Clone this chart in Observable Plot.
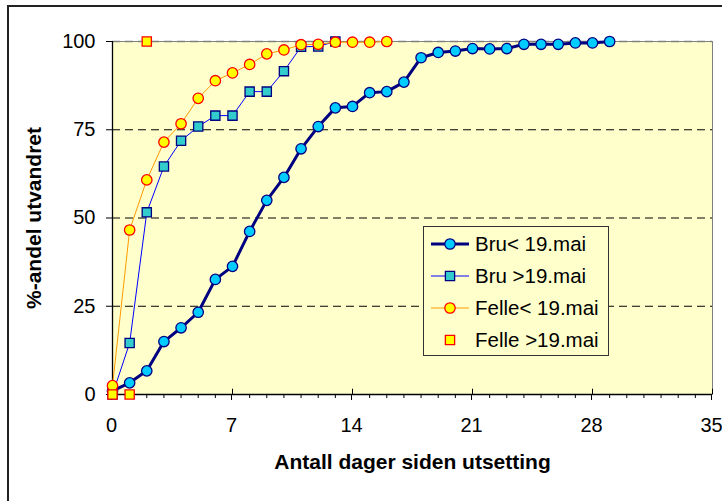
<!DOCTYPE html>
<html>
<head>
<meta charset="utf-8">
<script src="https://cdn.jsdelivr.net/npm/d3@7"></script>
<script src="https://cdn.jsdelivr.net/npm/@observablehq/plot@0.6"></script>
<style>
  body { margin: 0; background: #fff; font-family: "Liberation Sans", Arial, sans-serif; }
  #wrap { position: relative; width: 722px; height: 501px; overflow: hidden; }
  #border { position: absolute; left: 7px; top: 5px; width: 900px; height: 900px; border: 2px solid #222; box-sizing: border-box; pointer-events: none; }
  #legend { position: absolute; left: 423px; top: 226px; width: 186px; height: 130px; box-sizing: border-box;
            border: 1px solid #333; background: #FFFFCC; }
  .row { position: absolute; left: 0; height: 30px; display: flex; align-items: center; }
  .row svg { display: block; }
  .row span { font-size: 20.5px; color: #000; margin-left: 3px; white-space: nowrap; }
</style>
</head>
<body>
<div id="wrap">
  <div id="chart"></div>
  <div id="legend"></div>
  <div id="border"></div>
</div>
<script>
// ---- data ----
const bruBeforeDays = [0,1,2,3,4,5,6,7,8,9,10,11,12,13,14,15,16,17,18,19,20,21,22,23,24,25,26,27,28,29];
const bruBeforeVals = [1,3.3,6.7,15,18.9,23.3,32.6,36.3,46.2,55,61.5,69.6,75.9,81.2,81.6,85.5,85.8,88.5,95.4,96.9,97.3,98,97.9,98,99.2,99.2,99.2,99.6,99.6,100];

const bruAfterDays = [0,1,2,3,4,5,6,7,8,9,10,11,12,13];
const bruAfterVals = [0,14.6,51.6,64.6,71.9,75.9,79,79,85.8,85.8,91.6,98.5,98.6,100];

const felleBeforeDays = [0,1,2,3,4,5,6,7,8,9,10,11,12,13,14,15,16];
const felleBeforeVals = [2.5,46.6,60.8,71.5,76.7,83.9,88.9,91.1,93.5,96.5,97.6,99.1,99.2,99.8,99.8,99.8,100];

const felleAfterDays = [0,1,2];
const felleAfterVals = [0,0,100];

const seriesNames = ["Bru< 19.mai", "Bru >19.mai", "Felle< 19.mai", "Felle >19.mai"];
const xMajorTicks = [0,7,14,21,28,35];
const xMinorTicks = [1,2,3,4,5,6,8,9,10,11,12,13,15,16,17,18,19,20,22,23,24,25,26,27,29,30,31,32,33,34];
const yTicks = [0,25,50,75,100];
const gridBlack = [25,50,75];
const gridTop = [100];
const xTitle = "Antall dager siden utsetting";
const yTitle = "%-andel utvandret";

const toRows = (days, vals) => days.map((d, i) => ({day: d, val: vals[i]}));
const bruB = toRows(bruBeforeDays, bruBeforeVals);
const bruA = toRows(bruAfterDays, bruAfterVals);
const felB = toRows(felleBeforeDays, felleBeforeVals);
const felA = toRows(felleAfterDays, felleAfterVals);

const styles = [
  {line: "#000080", lw: 3, symbol: "circle", fill: "#00CCFF", stroke: "#000080", hasLine: true},
  {line: "#0000FF", lw: 1, symbol: "square", fill: "#33CCCC", stroke: "#000080", hasLine: true},
  {line: "#FF9900", lw: 1, symbol: "circle", fill: "#FFFF00", stroke: "#FF0000", hasLine: true},
  {line: null, lw: 0, symbol: "square", fill: "#FFFF00", stroke: "#FF0000", hasLine: false}
];

const font = '"Liberation Sans", Arial, sans-serif';

const chart = Plot.plot({
  width: 722,
  height: 501,
  marginLeft: 112,
  marginRight: 10,
  marginTop: 41,
  marginBottom: 107,
  style: {fontFamily: font, fontSize: "20px", background: "transparent", overflow: "visible", color: "#000"},
  x: {domain: [0, 35]},
  y: {domain: [0, 100]},
  marks: [
    Plot.frame({fill: "#FFFFCC", stroke: "#808080", strokeWidth: 1}),
    Plot.ruleY(gridBlack, {stroke: "#000", strokeWidth: 1, strokeDasharray: "8,5"}),
    Plot.ruleY(gridTop, {stroke: "#808080", strokeWidth: 1.5, strokeDasharray: "8,5"}),
    Plot.ruleX([0], {stroke: "#000", strokeWidth: 1.3}),
    Plot.ruleY([0], {stroke: "#000", strokeWidth: 1.3}),
    Plot.axisY({ticks: yTicks, tickSize: 6, tickPadding: 11, label: null, fontSize: 20}),
    Plot.axisX({ticks: xMajorTicks, tickSize: 6, tickPadding: 17, label: null, fontSize: 20, dx: -1}),
    Plot.axisX({ticks: xMinorTicks, tickSize: 4, tickFormat: () => "", label: null}),
    Plot.ruleX(xMajorTicks, {y1: 0, y2: 1.5, stroke: "#000"}),
    // series
    Plot.line(bruB, {x: "day", y: "val", stroke: styles[0].line, strokeWidth: styles[0].lw}),
    Plot.dot(bruB, {x: "day", y: "val", symbol: "circle", r: 5.2, fill: styles[0].fill, stroke: styles[0].stroke, strokeWidth: 1.3}),
    Plot.line(bruA, {x: "day", y: "val", stroke: styles[1].line, strokeWidth: styles[1].lw}),
    Plot.dot(bruA, {x: "day", y: "val", symbol: "square", r: 5.2, fill: styles[1].fill, stroke: styles[1].stroke, strokeWidth: 1.3}),
    Plot.line(felB, {x: "day", y: "val", stroke: styles[2].line, strokeWidth: styles[2].lw}),
    Plot.dot(felB, {x: "day", y: "val", symbol: "circle", r: 5.2, fill: styles[2].fill, stroke: styles[2].stroke, strokeWidth: 1.3}),
    Plot.dot(felA, {x: "day", y: "val", symbol: "square", r: 5.2, fill: styles[3].fill, stroke: styles[3].stroke, strokeWidth: 1.3}),
    // titles
    Plot.text([xTitle], {frameAnchor: "bottom", dy: 74, fontWeight: "bold", fontSize: 21, fill: "#000"}),
    Plot.text([yTitle], {frameAnchor: "left", textAnchor: "middle", dx: -78, rotate: -90, fontWeight: "bold", fontSize: 21, fill: "#000"})
  ]
});
document.getElementById("chart").appendChild(chart);

// legend
const legend = document.getElementById("legend");
const rowTops = [2, 34, 66, 98];
seriesNames.forEach((name, i) => {
  const s = styles[i];
  const row = document.createElement("div");
  row.className = "row";
  row.style.top = rowTops[i] + "px";
  const svg = d3.create("svg").attr("width", 48).attr("height", 30);
  if (s.hasLine) svg.append("line").attr("x1", 7).attr("x2", 45).attr("y1", 15).attr("y2", 15)
      .attr("stroke", s.line).attr("stroke-width", s.lw);
  const sym = s.symbol === "circle" ? d3.symbolCircle : d3.symbolSquare;
  svg.append("path").attr("transform", "translate(26,15)")
    .attr("d", d3.symbol(sym, 5.2 * 5.2 * Math.PI)())
    .attr("fill", s.fill).attr("stroke", s.stroke).attr("stroke-width", 1.3);
  row.appendChild(svg.node());
  const span = document.createElement("span");
  span.textContent = name;
  row.appendChild(span);
  legend.appendChild(row);
});
</script>
</body>
</html>
